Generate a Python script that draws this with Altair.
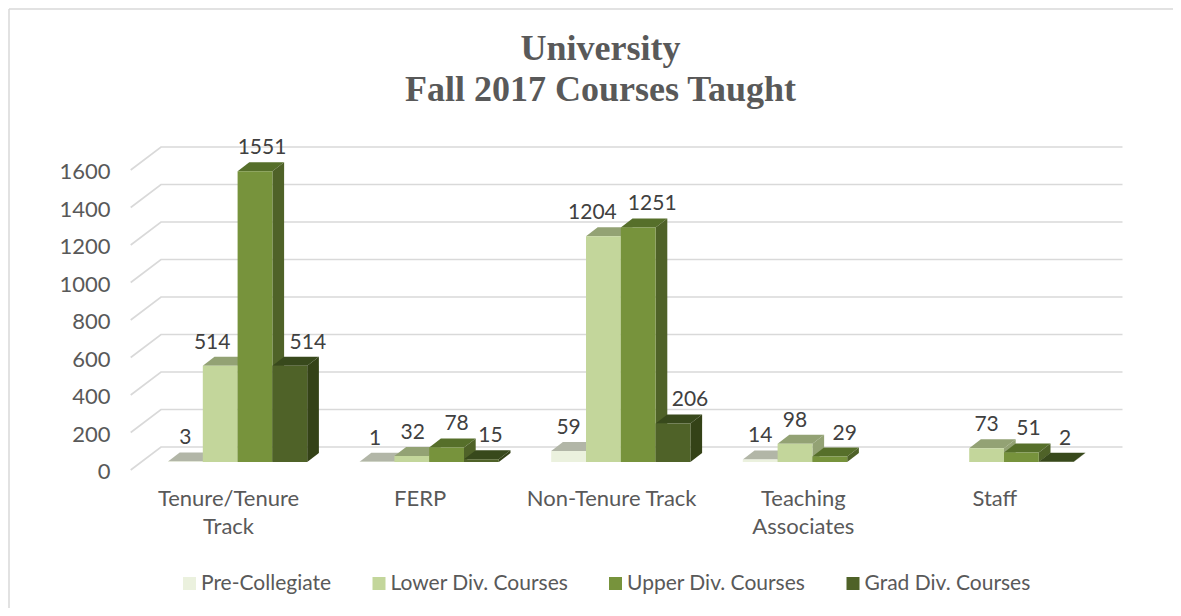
import altair as alt
import pandas as pd

CATEGORIES = ["Tenure/Tenure\nTrack", "FERP", "Non-Tenure Track", "Teaching\nAssociates", "Staff"]
SERIES = ["Pre-Collegiate", "Lower Div. Courses", "Upper Div. Courses", "Grad Div. Courses"]
PRE = [3, 1, 59, 14, None]
LOWER = [514, 32, 1204, 98, 73]
UPPER = [1551, 78, 1251, 29, 51]
GRAD = [514, 15, 206, None, 2]
VALUES = [PRE, LOWER, UPPER, GRAD]
TICKS = [0, 200, 400, 600, 800, 1000, 1200, 1400, 1600]

FRONT = ["#EBF1DE", "#C3D69B", "#77933C", "#4F6228"]
TOP = ["#B2B6A7", "#93A274", "#566F2A", "#38491C"]
SIDE = ["#B2B6A7", "#93A274", "#4F6228", "#344217"]
GREY = "#D9D9D9"
AXIS_TEXT = "#595959"
VALUE_TEXT = "#404040"
FONT = "Lato"

# layout, in pixels of the plot area
W, H = 993, 340
PPU = 0.1875                    # pixels per course
Y_MIN, Y_MAX = -10 / PPU, 330 / PPU
BASE = 8 / PPU                  # floor lift of the bars
BAR_W = 34.8
GROUP_STEP = 191.6
GROUP_X0 = 38.0
DEPTH_X = 11.7
DEPTH_Y = 9 / PPU
WALL_X0, WALL_X1, WALL_X2 = 0.7, 31.0, 992.5
WALL_Y = 23 / PPU
LABEL_DX = [
    [0, -8, 7, 18],
    [-2, 1, 10, 9],
    [0, -11, 14, 17],
    [0, 0, 15, 0],
    [0, 0, 7, 9],
]
LABEL_DY = 23


def bar_x(c, s):
    return GROUP_X0 + c * GROUP_STEP + s * BAR_W


fronts, tops, sides, labels = [], [], [], []
for s, name in enumerate(SERIES):
    for c in range(len(CATEGORIES)):
        v = VALUES[s][c]
        if v is None:
            continue
        x0 = bar_x(c, s)
        x1 = x0 + BAR_W
        t = BASE + v
        fronts.append(dict(series=name, s=s, x=x0, x2=x1, y=BASE, y2=t))
        k = f"{s}-{c}"
        for px, a, b in [
            (x0, t, t),
            (x0 + DEPTH_X, t, t + DEPTH_Y),
            (x1, t, t + DEPTH_Y),
            (x1 + DEPTH_X, t + DEPTH_Y, t + DEPTH_Y),
        ]:
            tops.append(dict(s=s, bar=k, x=px, y=a, y2=b))
        for px, a, b in [(x1, BASE, t), (x1 + DEPTH_X, BASE + DEPTH_Y, t + DEPTH_Y)]:
            sides.append(dict(s=s, bar=k, x=px, y=a, y2=b))
        labels.append(dict(x=x0 + BAR_W / 2 + LABEL_DX[c][s], y=t, text=str(v)))

fronts = pd.DataFrame(fronts)
tops = pd.DataFrame(tops)
sides = pd.DataFrame(sides)

grid = pd.DataFrame(
    [dict(tick=t, x=x, y=t + dy) for t in TICKS for x, dy in [(WALL_X0, 0), (WALL_X1, WALL_Y), (WALL_X2, WALL_Y)]]
)

xs = alt.Scale(domain=[0, W], range=[0, W], nice=False, zero=False)
ys = alt.Scale(domain=[Y_MIN, Y_MAX], nice=False, zero=False)
X = alt.X("x:Q", scale=xs, axis=None)
Y = alt.Y(
    "y:Q",
    scale=ys,
    axis=alt.Axis(
        values=TICKS, title=None, grid=False, domain=False, ticks=False, labelFont=FONT, labelFontSize=22,
        labelColor=AXIS_TEXT, labelPadding=20, labelBound=False, labelFlush=False, format="d", labelOffset=1.5,
    ),
)

layers = []
# frame of the picture
layers.append(alt.Chart(pd.DataFrame({"a": [0]})).mark_rule(color=GREY, strokeWidth=1.5).encode(
    x=alt.value(-121), y=alt.value(-131), y2=alt.value(468)))
layers.append(alt.Chart(pd.DataFrame({"a": [0]})).mark_rule(color=GREY, strokeWidth=1.5).encode(
    y=alt.value(-131), x=alt.value(-121), x2=alt.value(1043)))

layers.append(alt.Chart(grid).mark_line(color=GREY, strokeWidth=1.7).encode(x=X, y=Y, detail="tick:N"))

for s in range(len(SERIES)):
    layers.append(alt.Chart(tops[tops.s == s]).mark_area(color=TOP[s]).encode(x=X, y=Y, y2="y2:Q", detail="bar:N"))
    layers.append(alt.Chart(sides[sides.s == s]).mark_area(color=SIDE[s]).encode(x=X, y=Y, y2="y2:Q", detail="bar:N"))
    layers.append(
        alt.Chart(fronts[fronts.s == s]).mark_rect().encode(
            x=X, x2="x2:Q", y=Y, y2="y2:Q",
            color=alt.Color(
                "series:N",
                scale=alt.Scale(domain=SERIES, range=FRONT),
                legend=alt.Legend(
                    title=None, orient="none", legendX=49, legendY=433, direction="horizontal", columns=4,
                    gridAlign="none", symbolType="square", symbolSize=169, symbolStrokeWidth=0, labelFont=FONT,
                    labelFontSize=21, labelColor=AXIS_TEXT, labelOffset=1, columnPadding=36.5, labelLimit=300,
                ),
            ),
        )
    )

layers.append(
    alt.Chart(pd.DataFrame(labels)).mark_text(
        font=FONT, fontSize=21, color=VALUE_TEXT, baseline="middle", align="center", dy=-LABEL_DY
    ).encode(x=X, y=Y, text="text:N")
)

cat_df = pd.DataFrame(
    {"x": [GROUP_X0 + 60.5 + i * GROUP_STEP for i in range(len(CATEGORIES))], "text": CATEGORIES}
)
layers.append(
    alt.Chart(cat_df).mark_text(
        font=FONT, fontSize=22, color=AXIS_TEXT, baseline="top", align="center", lineBreak="\n", lineHeight=28
    ).encode(x=X, y=alt.value(349), text="text:N")
)

chart = (
    alt.layer(*layers)
    .resolve_scale(y="shared", x="shared")
    .properties(
        width=W, height=H,
        padding={"left": 122, "top": 132, "right": 50, "bottom": 128},
        autosize=alt.AutoSizeParams(type="none"),
        background="white",
        title=alt.TitleParams(
            text=["University", "Fall 2017 Courses Taught"], font="Liberation Serif", fontSize=36, fontWeight="bold",
            color=AXIS_TEXT, anchor="middle", dx=-26, offset=-101, lineHeight=41,
        ),
    )
    .configure_view(stroke=None)
)

chart.save("out.html", embed_options={"renderer": "svg", "actions": False})
